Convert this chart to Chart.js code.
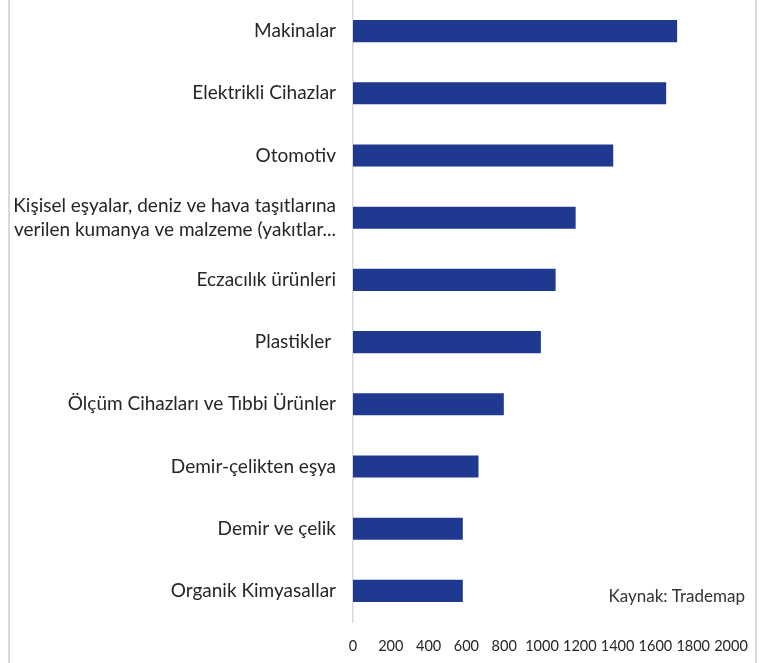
<!DOCTYPE html>
<html>
<head>
<meta charset="utf-8">
<script src="https://cdn.jsdelivr.net/npm/chart.js@4.4.0/dist/chart.umd.min.js"></script>
<style>
  html, body { margin: 0; padding: 0; background: #fff; }
  #wrap { width: 765px; height: 663px; position: relative; }
</style>
</head>
<body>
<div id="wrap"><canvas id="chart" width="765" height="663"></canvas></div>
<script>
// product groups, top to bottom
const categories = [
  'Makinalar',
  'Elektrikli Cihazlar',
  'Otomotiv',
  ['Kişisel eşyalar, deniz ve hava taşıtlarına', ' verilen kumanya ve malzeme (yakıtlar...'],
  'Eczacılık ürünleri',
  'Plastikler ',
  'Ölçüm Cihazları ve Tıbbi Ürünler',
  'Demir-çelikten eşya',
  'Demir ve çelik',
  'Organik Kimyasallar'
];
const values = [1715, 1657, 1377, 1178, 1072, 994, 798, 664, 581, 581];
const xTicks = [0, 200, 400, 600, 800, 1000, 1200, 1400, 1600, 1800, 2000];
const sourceNote = 'Kaynak: Trademap';

const FONT = "Lato, 'Open Sans', sans-serif";

// frame lines + source note
const extras = {
  id: 'extras',
  afterDraw(chart) {
    const ctx = chart.ctx;
    ctx.save();
    ctx.fillStyle = '#d9d9d9';
    ctx.fillRect(8, 0, 2, chart.height);
    ctx.fillRect(755, 0, 2, chart.height);
    ctx.fillStyle = '#333';
    ctx.font = '17px ' + FONT;
    ctx.textAlign = 'right';
    ctx.textBaseline = 'middle';
    ctx.fillText(sourceNote, 745, 597);
    ctx.restore();
  }
};

new Chart(document.getElementById('chart'), {
  type: 'bar',
  data: {
    labels: categories,
    datasets: [{
      data: values,
      backgroundColor: '#203990',
      borderWidth: 0,
      categoryPercentage: 1,
      barPercentage: 0.355
    }]
  },
  options: {
    indexAxis: 'y',
    responsive: false,
    animation: false,
    layout: { padding: { left: 0, right: 34, top: 0, bottom: 0 } },
    plugins: {
      legend: { display: false },
      tooltip: { enabled: false }
    },
    scales: {
      x: {
        min: 0,
        max: 2000,
        afterBuildTicks: s => { s.ticks = xTicks.map(v => ({ value: v })); },
        afterFit: s => { s.height = 41; s.paddingLeft = 0; s.paddingRight = 0; },
        grid: { display: false, drawTicks: false },
        border: { display: false },
        ticks: {
          autoSkip: false,
          maxRotation: 0,
          padding: 16,
          color: '#262626',
          callback: v => String(v),
          font: { family: FONT, size: 14.5 }
        }
      },
      y: {
        afterFit: s => { s.width = 353; s.paddingTop = 0; s.paddingBottom = 0; },
        grid: { display: false, drawTicks: false },
        border: { display: true, color: '#d9d9d9', width: 1.5 },
        ticks: {
          padding: 17,
          color: '#262626',
          font: { family: FONT, size: 19, lineHeight: 1.25 }
        }
      }
    }
  },
  plugins: [extras]
});
</script>
</body>
</html>
